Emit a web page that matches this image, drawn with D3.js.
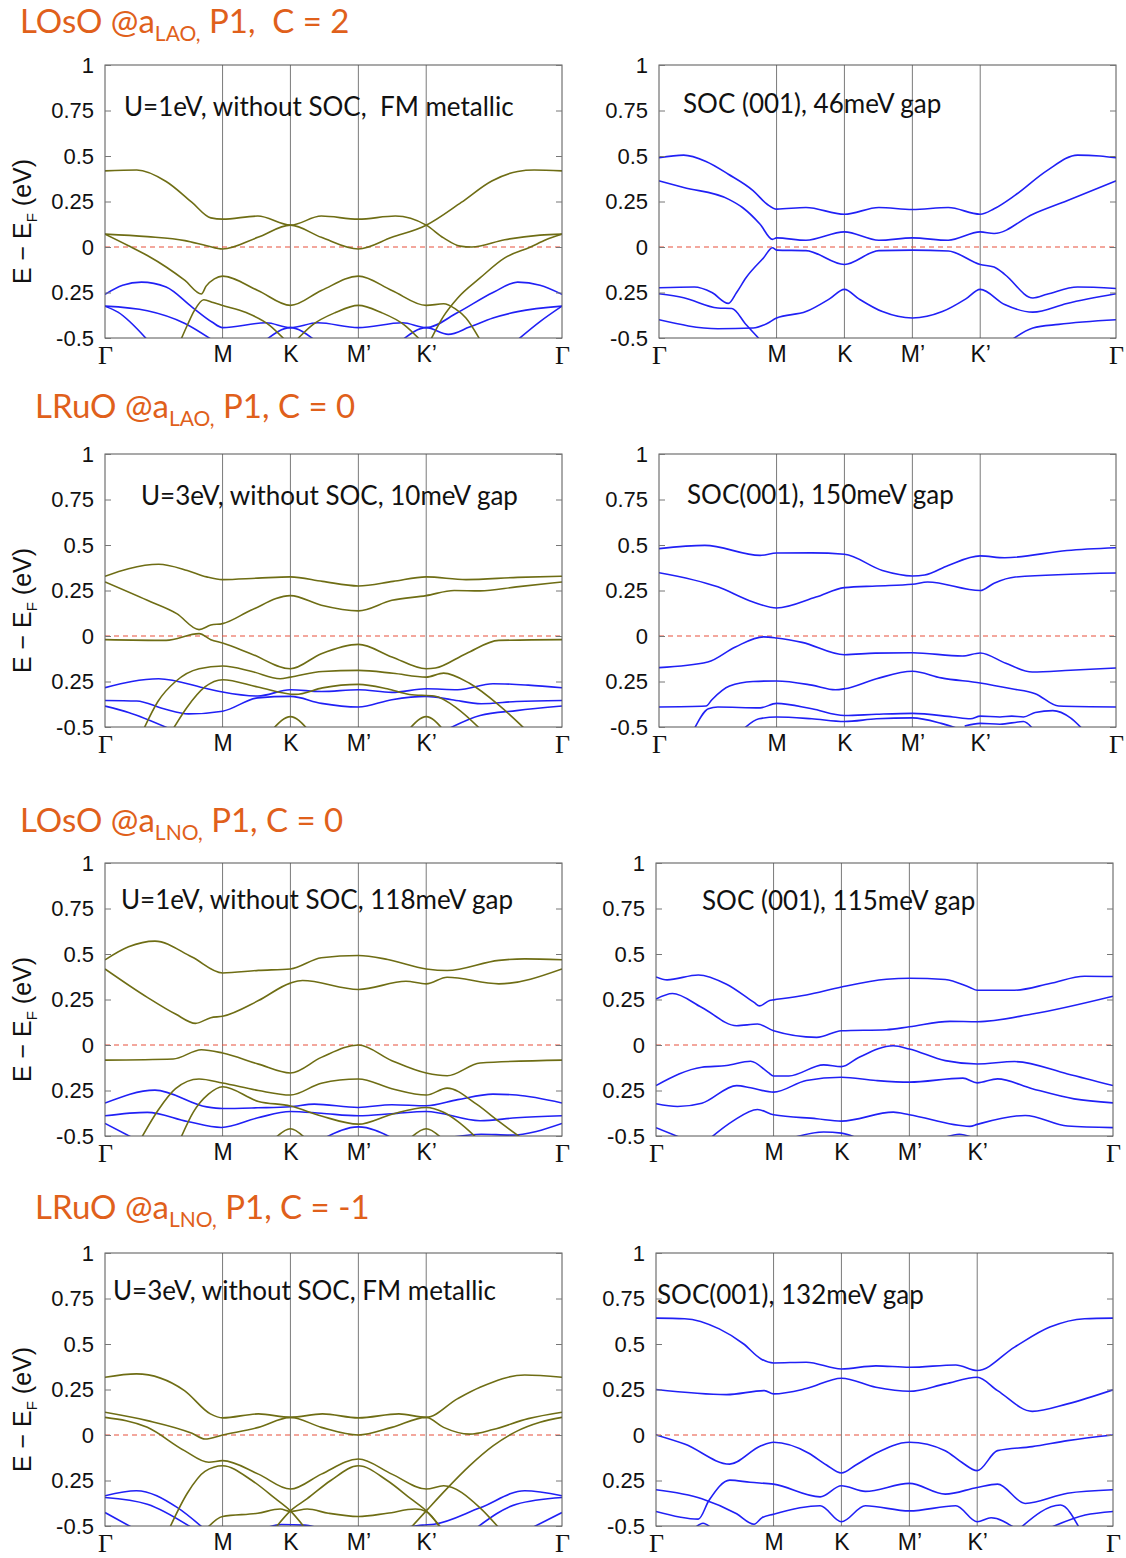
<!DOCTYPE html>
<html>
<head>
<meta charset="utf-8">
<script src="https://cdn.jsdelivr.net/npm/d3@7"></script>
<style>
  body { margin: 0; background: #fff; }
  svg { display: block; }
</style>
</head>
<body>
<svg id="chart" width="1126" height="1558"></svg>
<script>
// k-path and energy axis
const K_TICKS = [0, 1, 1.577, 2.155, 2.732, 3.887];
const K_LABELS = ["Γ", "M", "K", "M’", "K’", "Γ"];
const E_TICKS = [1, 0.75, 0.5, 0.25, 0, -0.25, -0.5];
const E_LABELS = ["1", "0.75", "0.5", "0.25", "0", "0.25", "-0.5"];

const TITLES = [
  ["LOsO @a", "LAO,", " P1,  C = 2"],
  ["LRuO @a", "LAO,", " P1, C = 0"],
  ["LOsO @a", "LNO,", " P1, C = 0"],
  ["LRuO @a", "LNO,", " P1, C = -1"]
];
const NOTES_LEFT = [
  "U=1eV, without SOC,  FM metallic",
  "U=3eV, without SOC, 10meV gap",
  "U=1eV, without SOC, 118meV gap",
  "U=3eV, without SOC, FM metallic"
];
const NOTES_RIGHT = [
  "SOC (001), 46meV gap",
  "SOC(001), 150meV gap",
  "SOC (001), 115meV gap",
  "SOC(001), 132meV gap"
];

// ---- row 1: LOsO @aLAO ----
const r1_u_olive = [
  [[0,0.418],[0.27,0.423],[0.52,0.36],[0.74,0.245],[0.9,0.16],[1,0.153],[1.3,0.17],[1.577,0.12],[1.84,0.17],[2.155,0.153],[2.47,0.17],[2.732,0.12],[2.88,0.05],[3.02,0.005],[3.12,0],[3.4,0.04],[3.7,0.065],[3.887,0.071]],
  [[0,0.071],[0.36,0.057],[0.68,0.035],[0.865,0.007],[1,-0.011],[1.3,0.053],[1.577,0.12],[1.84,0.053],[2.155,-0.011],[2.44,0.053],[2.732,0.12],[3.03,0.245],[3.29,0.363],[3.51,0.415],[3.65,0.423],[3.887,0.418]],
  [[0,0.071],[0.2,0.007],[0.36,-0.047],[0.52,-0.11],[0.68,-0.184],[0.82,-0.258],[0.86,-0.215],[0.93,-0.175],[1,-0.16],[1.3,-0.239],[1.577,-0.321],[1.84,-0.239],[2.155,-0.16],[2.44,-0.239],[2.732,-0.321],[2.88,-0.312],[2.98,-0.34],[3.07,-0.39],[3.19,-0.51]],
  [[0.645,-0.51],[0.7,-0.43],[0.76,-0.35],[0.84,-0.29],[0.92,-0.305],[1,-0.321],[1.2,-0.36],[1.4,-0.43],[1.53,-0.51]],
  [[1.63,-0.51],[1.76,-0.43],[1.96,-0.36],[2.155,-0.321],[2.35,-0.36],[2.55,-0.43],[2.68,-0.51]],
  [[2.77,-0.51],[2.88,-0.38],[3.0,-0.28],[3.19,-0.17],[3.4,-0.06],[3.62,0],[3.75,0.04],[3.887,0.071]]
];
const r1_u_blue = [
  [[0,-0.26],[0.15,-0.21],[0.31,-0.193],[0.52,-0.22],[0.74,-0.33],[0.91,-0.412],[1,-0.443],[1.37,-0.416],[1.577,-0.443],[1.81,-0.416],[2.155,-0.443],[2.53,-0.416],[2.732,-0.443],[3.0,-0.36],[3.3,-0.25],[3.51,-0.193],[3.7,-0.21],[3.887,-0.26]],
  [[0,-0.325],[0.36,-0.35],[0.68,-0.42],[0.91,-0.51]],
  [[0,-0.325],[0.11,-0.358],[0.36,-0.51]],
  [[1.37,-0.51],[1.577,-0.443],[1.78,-0.51]],
  [[2.53,-0.51],[2.732,-0.443],[2.92,-0.48],[3.1,-0.44],[3.3,-0.39],[3.51,-0.355],[3.887,-0.325]],
  [[3.51,-0.51],[3.7,-0.41],[3.887,-0.325]]
];
const r1_soc = [
  [[0,0.49],[0.21,0.505],[0.4,0.47],[0.59,0.4],[0.8,0.31],[0.92,0.235],[1,0.208],[1.25,0.217],[1.577,0.18],[1.87,0.217],[2.155,0.206],[2.46,0.217],[2.732,0.18],[2.85,0.21],[3.03,0.285],[3.3,0.42],[3.56,0.505],[3.75,0.5],[3.887,0.49]],
  [[0,0.364],[0.21,0.327],[0.59,0.263],[0.71,0.217],[0.86,0.125],[0.965,0.042],[1,0.05],[1.25,0.037],[1.577,0.083],[1.87,0.037],[2.155,0.05],[2.46,0.037],[2.732,0.083],[2.85,0.074],[3.18,0.18],[3.47,0.254],[3.887,0.364]],
  [[0,-0.224],[0.3,-0.22],[0.45,-0.25],[0.59,-0.31],[0.66,-0.25],[0.74,-0.169],[0.89,-0.059],[0.965,-0.004],[1,-0.017],[1.25,-0.02],[1.577,-0.096],[1.87,-0.02],[2.155,-0.017],[2.46,-0.022],[2.732,-0.096],[2.85,-0.11],[2.94,-0.15],[3.18,-0.28],[3.3,-0.26],[3.56,-0.22],[3.887,-0.228]],
  [[0,-0.257],[0.21,-0.279],[0.5,-0.335],[0.62,-0.338],[0.74,-0.426],[0.86,-0.51]],
  [[0,-0.4],[0.5,-0.449],[0.8,-0.445],[0.92,-0.42],[1,-0.39],[1.25,-0.355],[1.45,-0.285],[1.577,-0.233],[1.7,-0.285],[1.9,-0.355],[2.155,-0.39],[2.41,-0.355],[2.61,-0.285],[2.732,-0.233],[2.94,-0.316],[3.18,-0.358],[3.47,-0.31],[3.887,-0.257]],
  [[3.0,-0.51],[3.18,-0.445],[3.4,-0.425],[3.887,-0.4]]
];

// ---- row 2: LRuO @aLAO ----
const r2_u_olive = [
  [[0,0.328],[0.2,0.37],[0.456,0.394],[0.7,0.36],[0.865,0.325],[1,0.31],[1.3,0.318],[1.577,0.325],[1.85,0.3],[2.155,0.275],[2.45,0.3],[2.732,0.325],[3.07,0.31],[3.51,0.322],[3.887,0.328]],
  [[0,0.297],[0.36,0.196],[0.61,0.123],[0.8,0.035],[0.9,0.06],[1,0.068],[1.24,0.141],[1.577,0.222],[1.84,0.169],[2.155,0.138],[2.44,0.196],[2.732,0.222],[2.97,0.25],[3.19,0.248],[3.5,0.27],[3.887,0.297]],
  [[0,-0.02],[0.52,-0.024],[0.8,0.013],[0.9,-0.02],[1,-0.039],[1.24,-0.097],[1.577,-0.18],[1.84,-0.097],[2.155,-0.046],[2.44,-0.115],[2.732,-0.18],[2.81,-0.176],[3.07,-0.097],[3.35,-0.024],[3.887,-0.02]],
  [[0.33,-0.51],[0.45,-0.36],[0.6,-0.25],[0.8,-0.18],[1,-0.165],[1.25,-0.195],[1.49,-0.235],[1.577,-0.226],[1.85,-0.195],[2.155,-0.189],[2.45,-0.205],[2.732,-0.226],[2.88,-0.204],[3.1,-0.26],[3.35,-0.38],[3.57,-0.51]],
  [[0.58,-0.51],[0.7,-0.39],[0.85,-0.28],[1,-0.24],[1.3,-0.28],[1.62,-0.321],[1.85,-0.285],[2.155,-0.266],[2.4,-0.29],[2.59,-0.321],[2.8,-0.33],[3.0,-0.4],[3.19,-0.51]],
  [[1.43,-0.51],[1.577,-0.443],[1.72,-0.51]],
  [[2.59,-0.51],[2.732,-0.443],[2.87,-0.51]]
];
const r2_u_blue = [
  [[0,-0.284],[0.456,-0.235],[0.87,-0.29],[1,-0.308],[1.3,-0.33],[1.577,-0.295],[1.84,-0.305],[2.155,-0.295],[2.44,-0.31],[2.732,-0.29],[3.0,-0.295],[3.3,-0.262],[3.6,-0.27],[3.887,-0.284]],
  [[0,-0.354],[0.27,-0.357],[0.5,-0.4],[0.71,-0.428],[1,-0.413],[1.3,-0.34],[1.577,-0.332],[1.84,-0.37],[2.155,-0.39],[2.44,-0.35],[2.732,-0.332],[2.95,-0.35],[3.2,-0.372],[3.5,-0.36],[3.887,-0.354]],
  [[0,-0.385],[0.2,-0.42],[0.55,-0.51]],
  [[2.92,-0.51],[3.19,-0.437],[3.5,-0.41],[3.887,-0.385]]
];
const r2_soc = [
  [[0,0.48],[0.39,0.498],[0.86,0.443],[1,0.456],[1.3,0.457],[1.577,0.449],[1.9,0.36],[2.155,0.33],[2.26,0.335],[2.46,0.388],[2.732,0.44],[2.94,0.43],[3.47,0.47],[3.887,0.485]],
  [[0,0.348],[0.5,0.27],[0.8,0.187],[1,0.154],[1.335,0.214],[1.577,0.266],[1.85,0.275],[2.155,0.284],[2.285,0.297],[2.732,0.25],[2.85,0.29],[3.03,0.324],[3.887,0.346]],
  [[0,-0.174],[0.415,-0.143],[0.65,-0.06],[0.89,-0.005],[1,-0.011],[1.217,-0.035],[1.577,-0.103],[1.84,-0.094],[2.155,-0.092],[2.58,-0.11],[2.732,-0.093],[2.95,-0.15],[3.175,-0.198],[3.5,-0.188],[3.887,-0.176]],
  [[0,-0.39],[0.4,-0.385],[0.45,-0.35],[0.6,-0.275],[0.8,-0.25],[1,-0.247],[1.3,-0.27],[1.5,-0.295],[1.577,-0.29],[1.85,-0.235],[2.155,-0.194],[2.4,-0.23],[2.732,-0.258],[3.0,-0.29],[3.2,-0.317],[3.4,-0.385],[3.887,-0.39]],
  [[0.3,-0.51],[0.42,-0.4],[0.5,-0.39],[0.86,-0.395],[1,-0.37],[1.3,-0.4],[1.577,-0.437],[1.85,-0.43],[2.155,-0.425],[2.5,-0.445],[2.65,-0.455],[2.732,-0.44],[2.9,-0.445],[3.0,-0.44],[3.1,-0.445],[3.2,-0.42],[3.35,-0.41],[3.5,-0.45],[3.6,-0.51]],
  [[0.72,-0.51],[0.85,-0.455],[1,-0.445],[1.3,-0.455],[1.577,-0.47],[1.85,-0.455],[2.155,-0.45],[2.4,-0.48],[2.55,-0.51]],
  [[2.6,-0.495],[2.732,-0.48],[2.9,-0.485],[3.1,-0.47],[3.18,-0.51]]
];

// ---- row 3: LOsO @aLNO ----
const r3_u_olive = [
  [[0,0.468],[0.2,0.54],[0.425,0.571],[0.74,0.483],[1,0.396],[1.305,0.41],[1.577,0.418],[1.84,0.479],[2.155,0.492],[2.405,0.47],[2.732,0.418],[2.91,0.409],[3.35,0.465],[3.57,0.473],[3.887,0.468]],
  [[0,0.418],[0.36,0.262],[0.6,0.17],[0.77,0.119],[0.9,0.15],[1,0.158],[1.305,0.244],[1.577,0.34],[1.68,0.354],[2.155,0.305],[2.56,0.35],[2.732,0.336],[2.91,0.372],[3.35,0.336],[3.887,0.418]],
  [[0,-0.083],[0.58,-0.077],[0.82,-0.026],[1,-0.044],[1.305,-0.105],[1.577,-0.154],[1.84,-0.068],[2.155,0],[2.44,-0.086],[2.732,-0.154],[2.91,-0.169],[3.19,-0.099],[3.887,-0.083]],
  [[0.31,-0.51],[0.45,-0.36],[0.6,-0.24],[0.8,-0.187],[1,-0.209],[1.305,-0.25],[1.577,-0.275],[1.84,-0.21],[2.155,-0.187],[2.44,-0.24],[2.732,-0.275],[2.91,-0.237],[3.16,-0.325],[3.35,-0.42],[3.54,-0.51]],
  [[0.645,-0.51],[0.75,-0.37],[0.88,-0.27],[1,-0.229],[1.305,-0.31],[1.577,-0.335],[1.84,-0.39],[2.155,-0.435],[2.44,-0.38],[2.732,-0.343],[2.88,-0.37],[3.0,-0.42],[3.16,-0.51]],
  [[1.45,-0.51],[1.577,-0.46],[1.7,-0.51]],
  [[2.6,-0.51],[2.732,-0.46],[2.86,-0.51]]
];
const r3_u_blue = [
  [[0,-0.319],[0.425,-0.248],[0.865,-0.34],[1,-0.349],[1.3,-0.345],[1.577,-0.339],[1.78,-0.325],[2.155,-0.343],[2.44,-0.328],[2.732,-0.334],[3.0,-0.3],[3.3,-0.27],[3.5,-0.275],[3.887,-0.319]],
  [[0,-0.389],[0.36,-0.37],[0.7,-0.42],[0.99,-0.453],[1.3,-0.4],[1.577,-0.365],[1.84,-0.375],[2.155,-0.389],[2.44,-0.378],[2.732,-0.365],[3.19,-0.416],[3.5,-0.4],[3.887,-0.389]],
  [[0,-0.431],[0.236,-0.51]],
  [[1.87,-0.51],[2.155,-0.45],[2.44,-0.51]],
  [[2.92,-0.51],[3.2,-0.49],[3.45,-0.495],[3.887,-0.431]]
];
const r3_soc = [
  [[0,0.374],[0.095,0.358],[0.36,0.385],[0.6,0.334],[0.834,0.234],[0.88,0.215],[0.967,0.245],[1,0.248],[1.278,0.275],[1.577,0.319],[1.96,0.361],[2.155,0.367],[2.46,0.36],[2.67,0.316],[2.732,0.301],[3.05,0.301],[3.35,0.338],[3.645,0.378],[3.887,0.376]],
  [[0,0.252],[0.14,0.283],[0.39,0.206],[0.686,0.106],[0.864,0.115],[1,0.078],[1.367,0.042],[1.577,0.078],[1.96,0.084],[2.155,0.1],[2.5,0.13],[2.732,0.128],[3.2,0.17],[3.887,0.268]],
  [[0,-0.223],[0.39,-0.122],[0.6,-0.113],[0.805,-0.089],[0.953,-0.15],[1,-0.17],[1.13,-0.17],[1.426,-0.109],[1.577,-0.119],[1.72,-0.07],[2.018,-0.004],[2.155,-0.022],[2.46,-0.086],[2.732,-0.104],[3.05,-0.091],[3.5,-0.159],[3.887,-0.223]],
  [[0,-0.323],[0.183,-0.338],[0.39,-0.32],[0.686,-0.223],[0.805,-0.235],[1,-0.259],[1.278,-0.195],[1.577,-0.177],[1.87,-0.195],[2.155,-0.204],[2.61,-0.182],[2.732,-0.208],[2.905,-0.186],[3.2,-0.24],[3.556,-0.296],[3.887,-0.318]],
  [[0.465,-0.51],[0.65,-0.42],[0.864,-0.354],[1,-0.383],[1.367,-0.405],[1.577,-0.418],[2.018,-0.369],[2.155,-0.383],[2.67,-0.447],[2.732,-0.436],[3.14,-0.387],[3.5,-0.445],[3.887,-0.454]],
  [[0,-0.454],[0.213,-0.51]],
  [[1.16,-0.51],[1.426,-0.478],[1.577,-0.484],[1.707,-0.51]],
  [[2.447,-0.51],[2.58,-0.49],[2.7,-0.51]]
];

// ---- row 4: LRuO @aLNO ----
const r4_u_olive = [
  [[0,0.317],[0.267,0.336],[0.676,0.244],[0.896,0.116],[1,0.094],[1.305,0.116],[1.577,0.097],[1.85,0.116],[2.155,0.094],[2.5,0.116],[2.732,0.097],[3.0,0.2],[3.19,0.262],[3.57,0.33],[3.887,0.317]],
  [[0,0.125],[0.36,0.079],[0.74,0.009],[0.85,-0.022],[1,0],[1.305,0.042],[1.577,0.097],[1.84,0.042],[2.155,0],[2.44,0.042],[2.732,0.097],[2.88,0.042],[3.1,0.005],[3.3,0.03],[3.6,0.09],[3.887,0.125]],
  [[0,0.097],[0.36,0.042],[0.676,-0.086],[0.883,-0.15],[1,-0.141],[1.305,-0.215],[1.577,-0.297],[1.84,-0.215],[2.155,-0.132],[2.44,-0.215],[2.732,-0.297],[2.88,-0.279],[3.19,-0.4],[3.35,-0.51]],
  [[0.55,-0.51],[0.7,-0.32],[0.85,-0.2],[1,-0.169],[1.25,-0.25],[1.45,-0.35],[1.577,-0.417],[1.7,-0.51]],
  [[1.45,-0.51],[1.577,-0.417],[1.72,-0.35],[1.92,-0.25],[2.155,-0.169],[2.4,-0.25],[2.6,-0.35],[2.732,-0.417],[2.86,-0.51]],
  [[2.6,-0.51],[2.732,-0.417],[2.9,-0.3],[3.1,-0.17],[3.3,-0.06],[3.5,0.02],[3.7,0.07],[3.887,0.097]],
  [[0.87,-0.51],[1,-0.448],[1.3,-0.43],[1.49,-0.407],[1.577,-0.42],[1.72,-0.407],[1.9,-0.43],[2.155,-0.448],[2.4,-0.43],[2.64,-0.407],[2.732,-0.42],[2.85,-0.51]]
];
const r4_u_blue = [
  [[0,-0.334],[0.267,-0.306],[0.613,-0.398],[0.833,-0.51]],
  [[0,-0.343],[0.36,-0.38],[0.74,-0.51]],
  [[0,-0.426],[0.236,-0.51]],
  [[1.37,-0.51],[1.5,-0.492],[1.7,-0.495],[1.81,-0.51]],
  [[2.53,-0.51],[2.7,-0.495],[2.8,-0.49],[3.19,-0.4],[3.57,-0.306],[3.887,-0.334]],
  [[3.16,-0.51],[3.5,-0.38],[3.887,-0.343]],
  [[3.63,-0.51],[3.887,-0.426]]
];
const r4_soc = [
  [[0,0.642],[0.243,0.639],[0.538,0.583],[0.746,0.5],[0.893,0.418],[1,0.396],[1.278,0.4],[1.577,0.363],[1.87,0.38],[2.155,0.372],[2.55,0.385],[2.732,0.354],[3.05,0.483],[3.35,0.593],[3.645,0.639],[3.887,0.642]],
  [[0,0.25],[0.6,0.222],[0.923,0.244],[1,0.226],[1.278,0.255],[1.577,0.312],[1.87,0.262],[2.155,0.24],[2.46,0.281],[2.732,0.317],[2.905,0.244],[3.2,0.13],[3.5,0.171],[3.887,0.248]],
  [[0,0],[0.243,-0.05],[0.627,-0.16],[0.893,-0.059],[1,-0.04],[1.3,-0.1],[1.45,-0.165],[1.577,-0.209],[1.7,-0.165],[1.87,-0.1],[2.155,-0.04],[2.46,-0.086],[2.6,-0.15],[2.732,-0.196],[2.905,-0.086],[3.2,-0.064],[3.5,-0.031],[3.887,0]],
  [[0,-0.301],[0.39,-0.35],[0.686,-0.433],[0.834,-0.49],[0.9,-0.455],[1,-0.435],[1.396,-0.389],[1.577,-0.477],[1.78,-0.389],[2.155,-0.417],[2.55,-0.389],[2.732,-0.477],[2.85,-0.455],[3.05,-0.51]],
  [[0,-0.42],[0.36,-0.462],[0.45,-0.36],[0.627,-0.248],[0.8,-0.26],[1,-0.27],[1.396,-0.34],[1.577,-0.279],[1.78,-0.31],[2.155,-0.266],[2.46,-0.325],[2.732,-0.288],[2.905,-0.27],[3.14,-0.376],[3.5,-0.32],[3.887,-0.301]],
  [[0.33,-0.51],[0.4,-0.485],[0.47,-0.51]],
  [[3.1,-0.51],[3.44,-0.385],[3.6,-0.51]],
  [[3.35,-0.51],[3.65,-0.44],[3.887,-0.42]]
];

const OLIVE = "#6e6d14", BLUE = "#2020f5", ORANGE = "#e0601b";
const SANS = "Liberation Sans, Arial, Helvetica, sans-serif";

const svg = d3.select("#chart");
const ROW_TOP = [65, 454, 863, 1253];
const PH = 273, PW = 457;
const LEFT_X = [105, 105, 105, 105];
const RIGHT_X = [659, 659, 656, 656];
const TITLE_POS = [[20, 33], [35, 418], [20, 832], [35, 1219]];
const NOTE_L = [[124, 116], [141, 505], [121, 909], [113, 1300]];
const NOTE_R = [[683, 113], [687, 504], [702, 910], [657, 1304]];

const panels = [
  { row: 0, side: 0, olive: r1_u_olive, blue: r1_u_blue },
  { row: 0, side: 1, olive: [], blue: r1_soc },
  { row: 1, side: 0, olive: r2_u_olive, blue: r2_u_blue },
  { row: 1, side: 1, olive: [], blue: r2_soc },
  { row: 2, side: 0, olive: r3_u_olive, blue: r3_u_blue },
  { row: 2, side: 1, olive: [], blue: r3_soc },
  { row: 3, side: 0, olive: r4_u_olive, blue: r4_u_blue },
  { row: 3, side: 1, olive: [], blue: r4_soc }
];

panels.forEach(function (p, i) {
  const x0 = p.side === 0 ? LEFT_X[p.row] : RIGHT_X[p.row];
  const y0 = ROW_TOP[p.row];
  const x = d3.scaleLinear().domain([0, 3.887]).range([x0, x0 + PW]);
  const y = d3.scaleLinear().domain([-0.5, 1]).range([y0 + PH, y0]);

  const g = svg.append("g");

  // clip
  svg.append("clipPath").attr("id", "clip" + i)
    .append("rect").attr("x", x0).attr("y", y0).attr("width", PW).attr("height", PH);

  // high-symmetry lines
  g.selectAll("line.sym").data(K_TICKS.slice(1, -1)).enter().append("line")
    .attr("x1", d => x(d)).attr("x2", d => x(d))
    .attr("y1", y0).attr("y2", y0 + PH)
    .attr("stroke", "#7a7a7a").attr("stroke-width", 1);

  // Fermi level
  g.append("line")
    .attr("x1", x0).attr("x2", x0 + PW)
    .attr("y1", y(0)).attr("y2", y(0))
    .attr("stroke", "#e8503c").attr("stroke-width", 1.2)
    .attr("stroke-dasharray", "5,4");

  const line = d3.line().x(d => x(d[0])).y(d => y(d[1])).curve(d3.curveMonotoneX);
  const bands = g.append("g").attr("clip-path", `url(#clip${i})`);
  bands.selectAll("path.b").data(p.blue).enter().append("path")
    .attr("d", line).attr("fill", "none").attr("stroke", BLUE).attr("stroke-width", 1.6);
  bands.selectAll("path.o").data(p.olive).enter().append("path")
    .attr("d", line).attr("fill", "none").attr("stroke", OLIVE).attr("stroke-width", 1.6);

  // frame
  g.append("rect").attr("x", x0).attr("y", y0).attr("width", PW).attr("height", PH)
    .attr("fill", "none").attr("stroke", "#555").attr("stroke-width", 1);

  // y axis
  const yAxis = d3.axisLeft(y).tickValues(E_TICKS)
    .tickFormat((d, j) => E_LABELS[j]).tickSizeInner(-6).tickSizeOuter(0).tickPadding(11);
  const ya = g.append("g").attr("transform", `translate(${x0},0)`).call(yAxis);
  ya.select(".domain").remove();
  ya.selectAll("line").attr("stroke", "#777");
  ya.selectAll("text").attr("font-family", SANS)
    .attr("font-size", 22).attr("fill", "#111");

  const yr = g.append("g").attr("transform", `translate(${x0 + PW},0)`)
    .call(d3.axisRight(y).tickValues(E_TICKS).tickFormat("").tickSizeInner(-6).tickSizeOuter(0));
  yr.select(".domain").remove();
  yr.selectAll("line").attr("stroke", "#777");

  // x axis
  const xa = g.append("g").attr("transform", `translate(0,${y0 + PH})`)
    .call(d3.axisBottom(x).tickValues(K_TICKS).tickFormat((d, j) => K_LABELS[j]).tickSize(0).tickPadding(8));
  xa.select(".domain").remove();
  xa.selectAll("text")
    .attr("font-family", (d, j) => (j === 0 || j === 5) ? "Liberation Serif, Times, serif" : SANS)
    .attr("font-size", (d, j) => (j === 0 || j === 5) ? 26 : 23)
    .attr("fill", "#111");

  // annotation
  const np = p.side === 0 ? NOTE_L[p.row] : NOTE_R[p.row];
  svg.append("text").attr("x", np[0]).attr("y", np[1])
    .attr("font-family", "Lato, sans-serif").attr("font-size", 26).attr("fill", "#111")
    .attr("xml:space", "preserve")
    .text(p.side === 0 ? NOTES_LEFT[p.row] : NOTES_RIGHT[p.row]);

  // y label on left panels
  if (p.side === 0) {
    const cy = y0 + PH / 2 + 20;
    const t = svg.append("text")
      .attr("transform", `translate(31,${cy}) rotate(-90)`)
      .attr("text-anchor", "middle")
      .attr("font-family", SANS)
      .attr("font-size", 25).attr("fill", "#111");
    t.append("tspan").text("E − E");
    t.append("tspan").attr("font-size", 15).attr("dy", 6).text("F");
    t.append("tspan").attr("dy", -6).text(" (eV)");
  }
});

// row titles
TITLES.forEach(function (tt, r) {
  const t = svg.append("text")
    .attr("x", TITLE_POS[r][0]).attr("y", TITLE_POS[r][1])
    .attr("font-family", "Lato, sans-serif").attr("font-size", 33)
    .attr("fill", ORANGE).attr("xml:space", "preserve");
  t.append("tspan").text(tt[0]);
  t.append("tspan").attr("font-size", 21).attr("dy", 8).text(tt[1]);
  t.append("tspan").attr("dy", -8).text(tt[2]);
});
</script>
</body>
</html>
